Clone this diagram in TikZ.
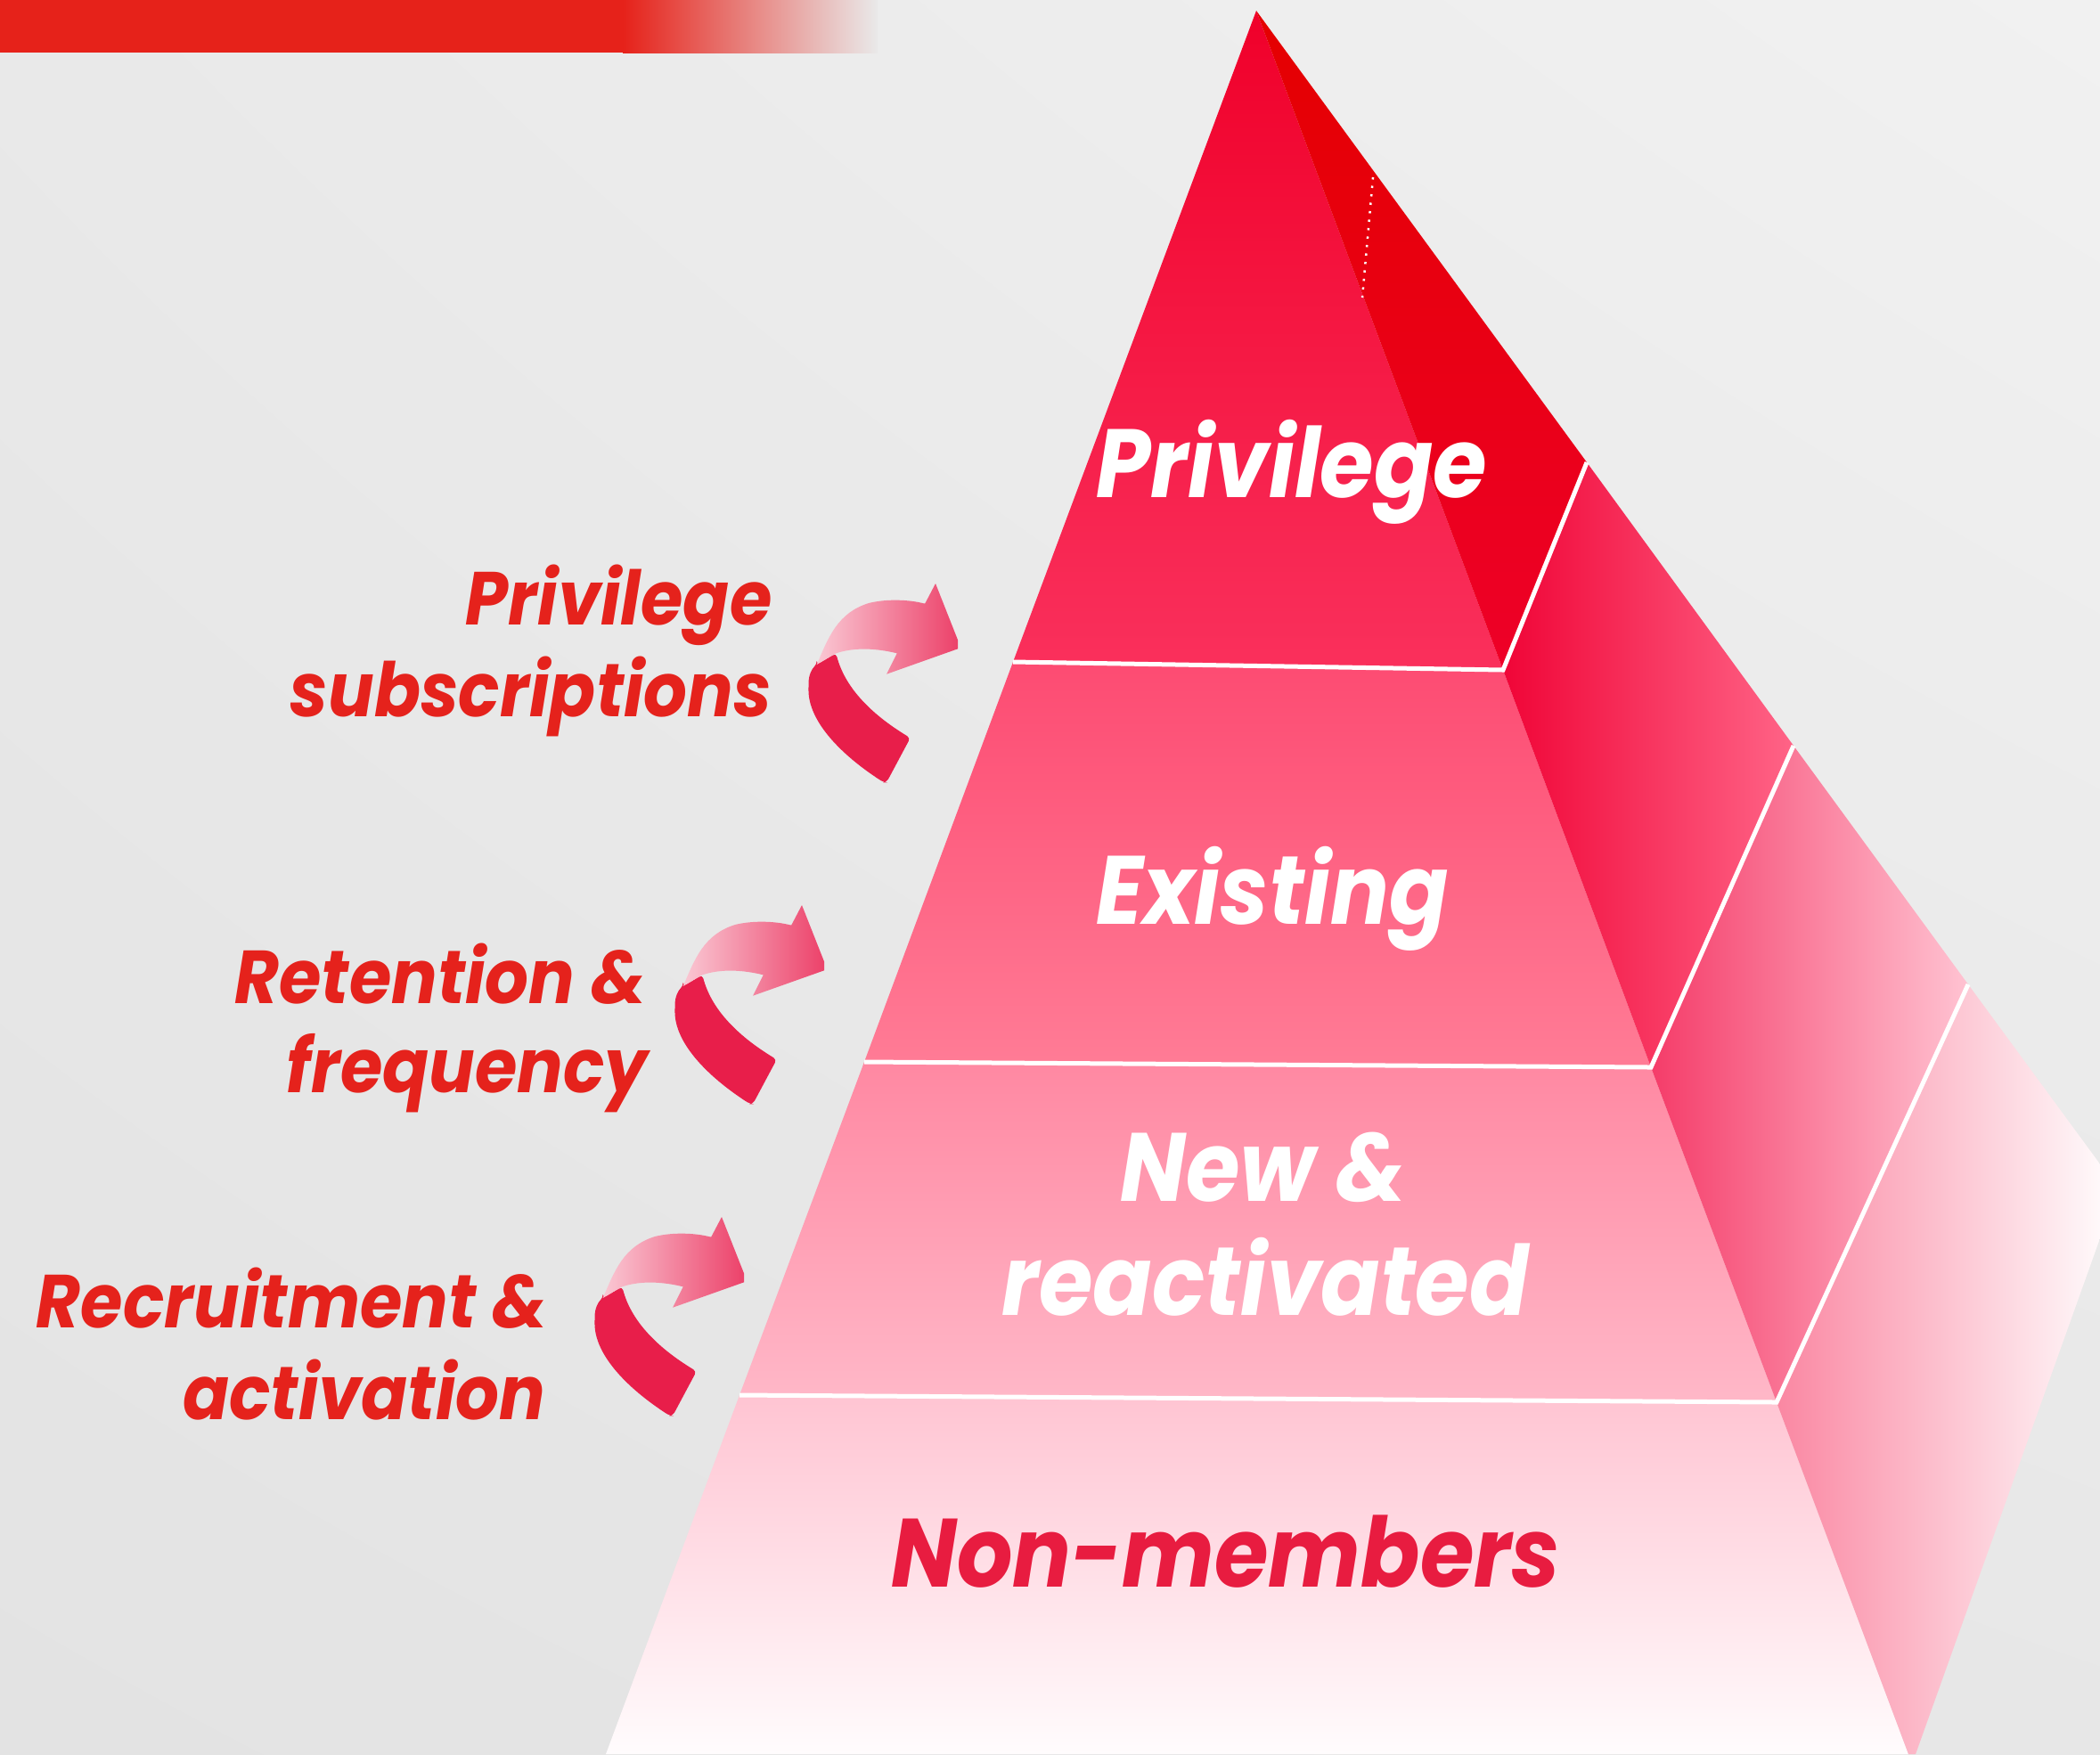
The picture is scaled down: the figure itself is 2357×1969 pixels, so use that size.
\documentclass[tikz,border=0pt]{standalone}
\usepackage{fontspec}
\usetikzlibrary{shadings}
\newfontfamily\lblfont{Poppins}[FakeStretch=0.91]
\newfontfamily\tierfont{Poppins}[FakeStretch=0.9]
\begin{document}
% palette
\definecolor{barred}{RGB}{230,34,26}
\definecolor{bgUL}{RGB}{233,233,233}
\definecolor{bgUR}{RGB}{241,241,241}
\definecolor{bgLL}{RGB}{227,227,227}
\definecolor{bgLR}{RGB}{231,231,231}
\definecolor{pA}{RGB}{240,0,42}
\definecolor{pB}{RGB}{250,48,92}
\definecolor{rA}{RGB}{228,0,0}
\definecolor{rB}{RGB}{238,0,40}
\definecolor{pC}{RGB}{253,75,114}
\definecolor{pD}{RGB}{255,124,150}
\definecolor{rC}{RGB}{240,5,55}
\definecolor{rD}{RGB}{255,100,135}
\definecolor{pE}{RGB}{255,136,162}
\definecolor{pF}{RGB}{255,184,200}
\definecolor{rE}{RGB}{245,60,105}
\definecolor{rF}{RGB}{255,195,210}
\definecolor{pG}{RGB}{255,196,210}
\definecolor{pH}{RGB}{255,252,253}
\definecolor{rG}{RGB}{250,135,162}
\definecolor{rH}{RGB}{255,255,255}
\definecolor{ribbondark}{RGB}{232,30,74}
\definecolor{ribbonlight}{RGB}{250,200,212}
\definecolor{ribbonmid}{RGB}{236,66,106}
\definecolor{labelred}{RGB}{229,34,28}
\definecolor{nmred}{RGB}{232,28,64}
\tikzset{
  sidelabel/.style={font=\lblfont\bfseries\itshape\fontsize{24}{28}\selectfont, text=labelred, inner sep=0pt, anchor=base east},
  tierlabel/.style={font=\tierfont\bfseries\itshape\fontsize{31}{36}\selectfont, text=white, inner sep=0pt, anchor=base},
  divider/.style={draw=white, line width=0.5mm, line join=miter},
  pics/ribbon/.style={code={
    % dark lower band
    \fill[ribbondark, rounded corners=0.4mm]
      (36.7,126) -- (58.3,113.3) .. controls (68,150) and (95,180) .. (141.7,208.3)
      -- (115,258.3) -- (112,258.3)
      .. controls (65,228) and (27,190) .. (27.5,150)
      .. controls (27.7,138) and (31,131) .. (36.7,126) -- cycle;
    % light upper band ending in the head
    \shade[left color=ribbonlight, right color=ribbonmid]
      (36.7,126) .. controls (50,95) and (60,68) .. (95,57)
      .. controls (115,52) and (140,53) .. (156.7,57.3)
      -- (158.3,57.3) -- (170,35) -- (195,98.3) -- (195,108.3)
      -- (115,136.7) -- (126.7,113.3)
      .. controls (105,108) and (80,106) .. (58.3,113.3) -- cycle;
  }}
}
\begin{tikzpicture}[x=0.1mm,y=-0.1mm]
\useasboundingbox (0,0) rectangle (2357,1969);
% backdrop
\shade[upper left=bgUL, upper right=bgUR, lower left=bgLL, lower right=bgLR] (0,0) rectangle (2357,1969);
% header bar
\fill[barred] (0,0) rectangle (700,59);
\shade[left color=barred, right color=bgUL] (699,0) rectangle (985,59);

% pyramid corners
\coordinate (A) at (1410,12);
\coordinate (L1) at (1137,743);
\coordinate (L2) at (970,1192);
\coordinate (L3) at (830,1566);
\coordinate (BL) at (680,1969);
\coordinate (F1) at (1687,752);
\coordinate (F2) at (1853,1198);
\coordinate (F3) at (1994,1574);
\coordinate (FB) at (2142,1969);
\coordinate (R1) at (1781,519);
\coordinate (R2) at (2013,837);
\coordinate (R3) at (2209,1105);
\coordinate (RC) at (2377,1334);
\coordinate (RB) at (2150,1969);

\begin{scope}
\clip (0,0) rectangle (2357,1969);
% front face tiers
\shade[top color=pA, bottom color=pB] (A) -- (F1) -- (L1) -- cycle;
\shade[top color=pC, bottom color=pD] (L1) -- (F1) -- (F2) -- (L2) -- cycle;
\shade[top color=pE, bottom color=pF] (L2) -- (F2) -- (F3) -- (L3) -- cycle;
\shade[top color=pG, bottom color=pH] (L3) -- (F3) -- (FB) -- (BL) -- cycle;
% side face tiers
\shade[top color=rA, bottom color=rB] (A) -- (R1) -- (F1) -- cycle;
\shade[left color=rC, right color=rD] (F1) -- (R1) -- (R2) -- (F2) -- cycle;
\shade[left color=rE, right color=rF] (F2) -- (R2) -- (R3) -- (F3) -- cycle;
\shade[left color=rG, right color=rH] (F3) -- (R3) -- (RC) -- (RB) -- (FB) -- cycle;
\draw[white, line width=0.25mm, dotted] (1541,199) -- (1529,334);
% tier dividers
\draw[divider] (L1) -- (F1) -- (R1);
\draw[divider] (L2) -- (F2) -- (R2);
\draw[divider] (L3) -- (F3) -- (R3);
\end{scope}

% tier names
\node[tierlabel] (tPriv) at (1450,558) {Privilege};
\node[tierlabel] (tExist) at (1428,1037) {Existing};
\node[tierlabel] (tNew) at (1418,1348) {New \&};
\node[tierlabel] (tReact) at (1420,1476) {reactivated};
\node[tierlabel, text=nmred] (tNon) at (1376,1781) {Non-members};

% strategy labels
\node[sidelabel] (sPrivA) at (867,701) {Privilege};
\node[sidelabel] (sPrivB) at (867,804) {subscriptions};
\node[sidelabel] (sRetA) at (726,1126) {Retention \&};
\node[sidelabel] (sRetB) at (728,1226) {frequency};
\node[sidelabel] (sRecA) at (615,1490) {Recruitment \&};
\node[sidelabel] (sRecB) at (613,1593) {activation};

% cycle arrows
\pic at (880,620) {ribbon};
\pic at (730,981) {ribbon};
\pic at (640,1331) {ribbon};
\end{tikzpicture}
\end{document}
